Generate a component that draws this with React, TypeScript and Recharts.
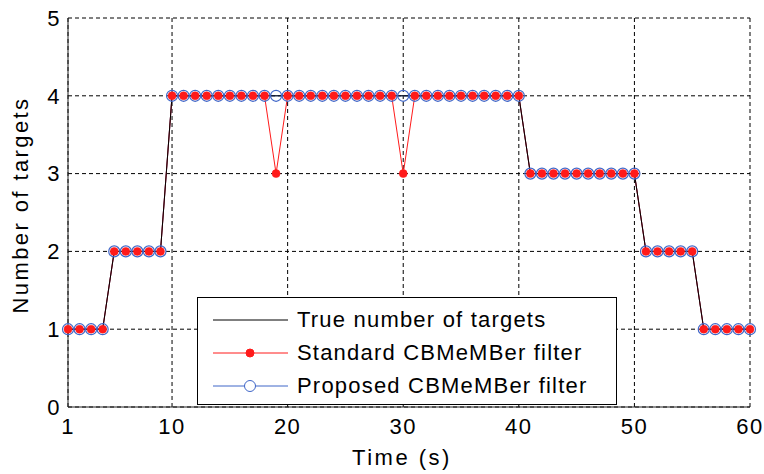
import React from 'react';
import {
  CartesianGrid,
  Legend,
  Line,
  LineChart,
  XAxis,
  YAxis,
} from 'recharts';

// data
const TIME = [
  1, 2, 3, 4, 5, 6, 7, 8, 9, 10,
  11, 12, 13, 14, 15, 16, 17, 18, 19, 20,
  21, 22, 23, 24, 25, 26, 27, 28, 29, 30,
  31, 32, 33, 34, 35, 36, 37, 38, 39, 40,
  41, 42, 43, 44, 45, 46, 47, 48, 49, 50,
  51, 52, 53, 54, 55, 56, 57, 58, 59, 60,
];

const TRUE_COUNT = [
  1, 1, 1, 1, 2, 2, 2, 2, 2, 4,
  4, 4, 4, 4, 4, 4, 4, 4, 4, 4,
  4, 4, 4, 4, 4, 4, 4, 4, 4, 4,
  4, 4, 4, 4, 4, 4, 4, 4, 4, 4,
  3, 3, 3, 3, 3, 3, 3, 3, 3, 3,
  2, 2, 2, 2, 2, 1, 1, 1, 1, 1,
];

const STANDARD_COUNT = [
  1, 1, 1, 1, 2, 2, 2, 2, 2, 4,
  4, 4, 4, 4, 4, 4, 4, 4, 3, 4,
  4, 4, 4, 4, 4, 4, 4, 4, 4, 3,
  4, 4, 4, 4, 4, 4, 4, 4, 4, 4,
  3, 3, 3, 3, 3, 3, 3, 3, 3, 3,
  2, 2, 2, 2, 2, 1, 1, 1, 1, 1,
];

const PROPOSED_COUNT = [
  1, 1, 1, 1, 2, 2, 2, 2, 2, 4,
  4, 4, 4, 4, 4, 4, 4, 4, 4, 4,
  4, 4, 4, 4, 4, 4, 4, 4, 4, 4,
  4, 4, 4, 4, 4, 4, 4, 4, 4, 4,
  3, 3, 3, 3, 3, 3, 3, 3, 3, 3,
  2, 2, 2, 2, 2, 1, 1, 1, 1, 1,
];

const X_TICKS = [1, 10, 20, 30, 40, 50, 60];
const Y_TICKS = [0, 1, 2, 3, 4, 5];

const LEGEND_LABELS = [
  'True number of targets',
  'Standard CBMeMBer filter',
  'Proposed CBMeMBer filter',
];

const RED = '#ff1a1a';
const BLUE = '#3f66c8';
const FONT = '"Liberation Sans", Arial, sans-serif';

const data = TIME.map((t, i) => ({
  t,
  truth: TRUE_COUNT[i],
  standard: STANDARD_COUNT[i],
  proposed: PROPOSED_COUNT[i],
}));

const LegendBox = () => {
  const rows = [22, 55, 88];
  return (
    <div
      style={{
        width: 420,
        height: 108,
        boxSizing: 'border-box',
        border: '1px solid #000',
        background: '#fff',
      }}
    >
      <svg width={418} height={106} style={{ display: 'block' }}>
        {/* true */}
        <line x1={15} x2={90} y1={rows[0]} y2={rows[0]} stroke="#000" />
        {/* standard */}
        <line x1={15} x2={90} y1={rows[1]} y2={rows[1]} stroke={RED} />
        <circle cx={52} cy={rows[1]} r={4} fill={RED} stroke={RED} />
        {/* proposed */}
        <line x1={15} x2={90} y1={rows[2]} y2={rows[2]} stroke={BLUE} />
        <circle cx={52} cy={rows[2]} r={5.5} fill="#fff" stroke={BLUE} />
        {LEGEND_LABELS.map((label, i) => (
          <text
            key={label}
            x={99}
            y={rows[i] + 7}
            fontSize={22}
            fill="#000"
            style={{ letterSpacing: '1.2px' }}
          >
            {label}
          </text>
        ))}
      </svg>
    </div>
  );
};

const XLabel = (props: any) => {
  const { viewBox } = props;
  return (
    <text
      x={viewBox.x + viewBox.width / 2 - 7}
      y={465}
      textAnchor="middle"
      fontSize={22}
      fill="#000"
      style={{ letterSpacing: '2.5px' }}
    >
      Time (s)
    </text>
  );
};

const YLabel = () => (
  <text
    x={28}
    y={205}
    transform="rotate(-90, 28, 205)"
    textAnchor="middle"
    fontSize={22}
    fill="#000"
    style={{ letterSpacing: '2.4px' }}
  >
    Number of targets
  </text>
);

export default function App() {
  return (
    <div
      style={{
        position: 'absolute',
        left: 0,
        top: 0,
        fontFamily: FONT,
        letterSpacing: '1.5px',
        background: '#fff',
      }}
    >
      <LineChart
        width={764}
        height={474}
        data={data}
        margin={{ top: 18, right: 14, bottom: 7, left: 8 }}
      >
        <CartesianGrid stroke="#000" strokeDasharray="4 3" />
        <XAxis
          dataKey="t"
          type="number"
          domain={[1, 60]}
          ticks={X_TICKS}
          interval={0}
          height={60}
          tickSize={0}
          tickMargin={11}
          axisLine={{ stroke: '#222' }}
          tick={{ fontSize: 22, fill: '#000' }}
          label={<XLabel />}
        />
        <XAxis
          xAxisId="top"
          orientation="top"
          dataKey="t"
          type="number"
          domain={[1, 60]}
          height={0}
          tick={false}
          tickLine={false}
          axisLine={{ stroke: '#444', strokeWidth: 1.5 }}
        />
        <YAxis
          type="number"
          domain={[0, 5]}
          ticks={Y_TICKS}
          interval={0}
          width={60}
          tickSize={0}
          tickMargin={7}
          axisLine={{ stroke: '#222' }}
          tick={{ fontSize: 22, fill: '#000' }}
          label={<YLabel />}
        />
        <YAxis
          yAxisId="right"
          orientation="right"
          type="number"
          domain={[0, 5]}
          width={0}
          tick={false}
          tickLine={false}
          axisLine={{ stroke: '#222' }}
        />
        <Legend
          layout="horizontal"
          verticalAlign="middle"
          align="center"
          width={420}
          height={108}
          wrapperStyle={{ left: 197, top: 297, width: 420, height: 108 }}
          content={() => <LegendBox />}
        />
        <Line
          dataKey="proposed"
          name={LEGEND_LABELS[2]}
          type="linear"
          stroke={BLUE}
          strokeWidth={1}
          dot={{ r: 5.5, fill: 'none', stroke: BLUE, strokeWidth: 1.2 }}
          isAnimationActive={false}
        />
        <Line
          dataKey="standard"
          name={LEGEND_LABELS[1]}
          type="linear"
          stroke={RED}
          strokeWidth={1}
          dot={{ r: 4, fill: RED, stroke: RED, strokeWidth: 0.5 }}
          isAnimationActive={false}
        />
        <Line
          dataKey="truth"
          name={LEGEND_LABELS[0]}
          type="linear"
          stroke="#000"
          strokeWidth={1}
          dot={false}
          isAnimationActive={false}
        />
      </LineChart>
    </div>
  );
}
